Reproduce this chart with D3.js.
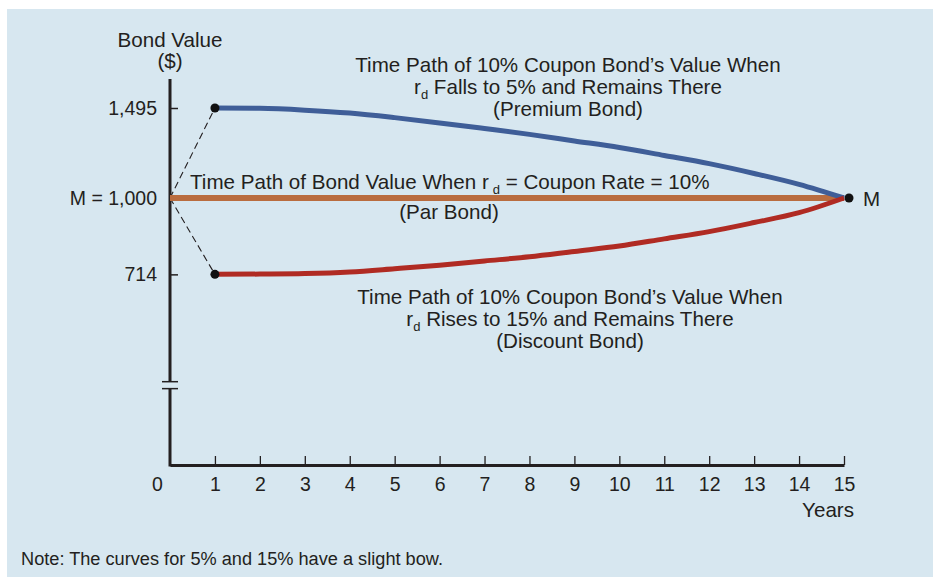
<!DOCTYPE html>
<html>
<head>
<meta charset="utf-8">
<script src="https://cdn.jsdelivr.net/npm/d3@7"></script>
<style>
  body { margin: 0; background: #fff; }
  svg text { font-family: "Liberation Sans", Arial, Helvetica, sans-serif; fill: #231f20; }
</style>
</head>
<body>
<div id="chart"></div>
<script>
// data
const years = [1, 2, 3, 4, 5, 6, 7, 8, 9, 10, 11, 12, 13, 14, 15];
const premiumValues = [1495, 1493, 1483, 1467, 1442, 1413, 1382, 1350, 1314, 1278, 1234, 1189, 1135, 1075, 1000];
const discountValues = [714, 715, 717, 723, 735, 748, 764, 780, 800, 820, 847, 874, 908, 945, 1000];
const parYears = [0, 15];
const parValues = [1000, 1000];
const xTicks = [0, 1, 2, 3, 4, 5, 6, 7, 8, 9, 10, 11, 12, 13, 14, 15];
const yTicks = [714, 1000, 1495];
const yTickLabels = ["714", "M = 1,000", "1,495"];

function drawChart() {
    let div_id = "#chart";
    let width = 933, height = 577;
    let fs = 20.6; // text size of the labels

    let svg = d3.select(div_id)
        .append("svg")
        .attr("width", width)
        .attr("height", height);

    // light blue panel
    svg.append("rect")
        .attr("x", 7).attr("y", 9)
        .attr("width", width - 7).attr("height", height - 9)
        .attr("fill", "#d7e7f0");

    // scales (y axis is not to scale above M)
    let x = d3.scaleLinear().domain([0, 15]).range([170, 844]);
    let y = d3.scaleLinear().domain([0, 1000, 1495]).range([465, 198, 108]);

    // x axis
    let xAxis = svg.append("g")
        .attr("transform", "translate(0," + y(0) + ")")
        .call(d3.axisBottom(x).tickValues(xTicks).tickSize(-9).tickSizeOuter(0).tickPadding(12));
    xAxis.select(".domain").attr("stroke", "#231f20").attr("stroke-width", 3);
    xAxis.selectAll(".tick line").attr("stroke", "#231f20").attr("stroke-width", 1.3);
    xAxis.selectAll(".tick text").attr("font-size", 19.5).attr("fill", "#231f20");
    xAxis.selectAll(".tick").filter(d => d === 0).select("line").remove();
    xAxis.selectAll(".tick").filter(d => d === 0).select("text").attr("x", -13);

    svg.append("text")
        .attr("x", 854).attr("y", 517)
        .attr("text-anchor", "end")
        .attr("font-size", fs)
        .text("Years");

    // y axis with a break
    let yAxis = svg.append("g")
        .attr("transform", "translate(" + x(0) + ",0)")
        .call(d3.axisLeft(y).tickValues(yTicks).tickSize(-8).tickPadding(13)
            .tickFormat((d, i) => yTickLabels[i]));
    yAxis.select(".domain").remove();
    yAxis.selectAll(".tick line").attr("stroke", "#231f20").attr("stroke-width", 1.5);
    yAxis.selectAll(".tick text").attr("font-size", 19.5).attr("fill", "#231f20");

    let axisTop = 1655, breakHigh = 312, breakLow = 286;
    let axisColor = "#231f20";
    yAxis.append("line")
        .attr("y1", y(axisTop)).attr("y2", y(breakHigh))
        .attr("stroke", axisColor).attr("stroke-width", 3);
    yAxis.append("line")
        .attr("y1", y(breakLow)).attr("y2", y(0) + 1.5)
        .attr("stroke", axisColor).attr("stroke-width", 3);
    yAxis.selectAll(".brk")
        .data([breakHigh, breakLow])
        .join("line")
        .attr("x1", -8).attr("x2", 8)
        .attr("y1", d => y(d)).attr("y2", d => y(d))
        .attr("stroke", axisColor).attr("stroke-width", 1.5);

    svg.append("text")
        .attr("x", 170).attr("y", 47)
        .attr("text-anchor", "middle")
        .attr("font-size", fs)
        .text("Bond Value");
    svg.append("text")
        .attr("x", 170).attr("y", 68)
        .attr("text-anchor", "middle")
        .attr("font-size", fs)
        .text("($)");

    // dashed jumps at year 1
    let jumps = [[1000, premiumValues[0]], [1000, discountValues[0]]];
    svg.selectAll(".jump")
        .data(jumps)
        .join("line")
        .attr("x1", x(0)).attr("y1", d => y(d[0]))
        .attr("x2", x(1)).attr("y2", d => y(d[1]))
        .attr("stroke", "#231f20")
        .attr("stroke-width", 1.1)
        .attr("stroke-dasharray", "7,4");

    // par bond line
    svg.append("path")
        .datum(parYears.map((d, i) => [d, parValues[i]]))
        .attr("fill", "none")
        .attr("stroke", "#b96c3f")
        .attr("stroke-width", 6)
        .attr("d", d3.line().x(d => x(d[0])).y(d => y(d[1])));

    let curve = d3.line()
        .x(d => x(d[0]))
        .y(d => y(d[1]))
        .curve(d3.curveMonotoneX);

    svg.append("path")
        .datum(years.map((d, i) => [d, premiumValues[i]]))
        .attr("fill", "none")
        .attr("stroke", "#3f5e98")
        .attr("stroke-width", 5)
        .attr("d", curve);

    svg.append("path")
        .datum(years.map((d, i) => [d, discountValues[i]]))
        .attr("fill", "none")
        .attr("stroke", "#b02b23")
        .attr("stroke-width", 5)
        .attr("d", curve);

    // dots
    let dots = [[1, premiumValues[0], 0], [1, discountValues[0], 0], [15, 1000, 5]];
    svg.selectAll(".dot")
        .data(dots)
        .join("circle")
        .attr("cx", d => x(d[0]) + d[2])
        .attr("cy", d => y(d[1]))
        .attr("r", 4.5)
        .attr("fill", "#111");

    svg.append("text")
        .attr("x", x(15) + 19).attr("y", y(1000) + 8)
        .attr("font-size", fs)
        .text("M");

    // annotations
    function block(cx, y0, lines) {
        lines.forEach(function(l, i) {
            let t = svg.append("text")
                .attr("x", cx).attr("y", y0 + i * 21.8)
                .attr("text-anchor", "middle")
                .attr("font-size", fs);
            if (l.sub) {
                t.append("tspan").text("r");
                t.append("tspan").attr("font-size", 13).attr("dy", 5).text("d");
                t.append("tspan").attr("dy", -5).text(l.text);
            } else {
                t.text(l.text);
            }
        });
    }
    block(568, 72, [
        {text: "Time Path of 10% Coupon Bond\u2019s Value When"},
        {text: " Falls to 5% and Remains There", sub: true},
        {text: "(Premium Bond)"}
    ]);
    block(570, 304, [
        {text: "Time Path of 10% Coupon Bond\u2019s Value When"},
        {text: " Rises to 15% and Remains There", sub: true},
        {text: "(Discount Bond)"}
    ]);

    let mid = svg.append("text")
        .attr("x", 190).attr("y", 189)
        .attr("font-size", fs);
    mid.append("tspan").text("Time Path of Bond Value When r");
    mid.append("tspan").attr("font-size", 13).attr("dx", 4).attr("dy", 5).text("d");
    mid.append("tspan").attr("dy", -5).text(" = Coupon Rate = 10%");

    svg.append("text")
        .attr("x", 449).attr("y", 219)
        .attr("text-anchor", "middle")
        .attr("font-size", fs)
        .text("(Par Bond)");

    svg.append("text")
        .attr("x", 21).attr("y", 565)
        .attr("font-size", 18)
        .attr("textLength", 422)
        .attr("lengthAdjust", "spacingAndGlyphs")
        .text("Note: The curves for 5% and 15% have a slight bow.");
}

drawChart();
</script>
</body>
</html>
